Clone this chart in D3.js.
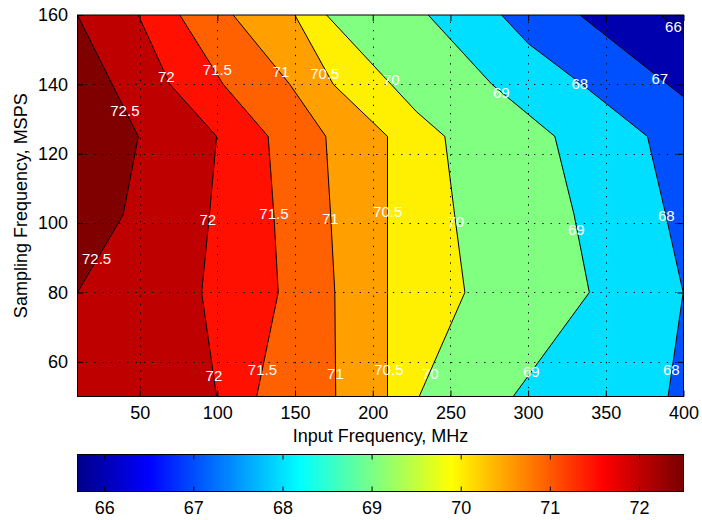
<!DOCTYPE html>
<html><head><meta charset="utf-8">
<script src="https://cdn.jsdelivr.net/npm/d3@7"></script>
<style>
body{margin:0;background:#fff}
svg{display:block}
text{font-family:"Liberation Sans",Arial,Helvetica,sans-serif}
</style>
</head><body>
<svg id="chart" width="702" height="520"></svg>
<script>
// ---- data ----
const xDomain = [10, 400];          // Input Frequency, MHz
const yDomain = [50, 160];          // Sampling Frequency, MSPS
const cLimits = [65.7, 72.5];       // colour limits (SNR, dB)
const levels = [66, 67, 68, 69, 70, 70.5, 71, 71.5, 72, 72.5];
// contour line vertices [input MHz, sampling MSPS], one list per level
const c66  = [[385,160],[400,154.5]];
const c67  = [[333.3,160],[389.8,140],[400,136.4]];
const c68  = [[282.9,160],[300,151.8],[334.7,140],[376.8,125],[388.6,102.4],[399.8,80],[390.1,50]];
const c69  = [[235.7,160],[276.7,140],[317.2,125],[329.6,102.4],[339.4,80],[290.4,50]];
const c70  = [[170.3,160],[211.8,140],[228.2,132.1],[246.4,125],[252.7,102.4],[259.3,80],[229.9,50]];
const c705 = [[149.9,160],[174.6,140],[209.5,125],[209.5,102.4],[209.5,80],[209.5,50]];
const c71  = [[110.2,160],[146.6,140],[169.8,125],[172.9,102.4],[175.6,80],[176.2,50]];
const c715 = [[75.9,160],[103.8,140],[132.7,125],[136.4,102.4],[139.2,80],[125.3,50]];
const c72  = [[49.1,160],[69.5,140],[99.5,125],[94.9,102.4],[89.9,80],[99.5,50]];
const c725 = [[10,160],[49.1,125],[39.4,102.4],[10,80]];
const contourLines = [c66, c67, c68, c69, c70, c705, c71, c715, c72, c725];
// contour labels
const labelValues = [72.5,72.5,72,72,72,71.5,71.5,71.5,71,71,71,70.5,70.5,70.5,70,70,70,69,69,69,68,68,68,67,66];
const labelX = [40.5,22.3,67.2,93.9,97.8,100.0,136.4,129.0,140.9,172.7,176.0,169.2,209.7,210.4,212.0,253.5,237.1,282.8,331.0,302.1,333.3,388.9,392.2,384.8,393.5];
const labelY = [132.3,89.9,142.3,100.9,56.1,144.4,102.6,57.8,143.8,101.4,56.5,143.1,103.3,57.9,141.3,100.4,56.6,137.6,98.0,57.2,140.2,102.3,57.8,141.7,156.7];
const xTicks = [50, 100, 150, 200, 250, 300, 350, 400];
const yTicks = [60, 80, 100, 120, 140, 160];
const cbTicks = [66, 67, 68, 69, 70, 71, 72];
const xTitle = "Input Frequency, MHz";
const yTitle = "Sampling Frequency, MSPS";

// ---- layout ----
const px0 = 77.5, px1 = 683.5, py0 = 15, py1 = 396.5;
const cbY0 = 454.5, cbY1 = 491.5;
const fontSize = 18;

const svg = d3.select("#chart");
svg.append("rect").attr("width",702).attr("height",520).attr("fill","#fff");

const x = d3.scaleLinear(xDomain, [px0, px1]);
const y = d3.scaleLinear(yDomain, [py1, py0]);
const cx = d3.scaleLinear(cLimits, [px0, px1]);

// MATLAB jet(64)
function u(k){ return k <= 16 ? k/16 : (k <= 31 ? 1 : (48 - k)/16); }
function jet64(i){
  const r = i < 25 ? 0 : u(i - 24);
  const g = (i < 9 || i > 55) ? 0 : u(i - 8);
  const b = i > 39 ? 0 : u(i + 8);
  return d3.rgb(Math.round(r*255), Math.round(g*255), Math.round(b*255)).formatHex();
}
function colorOf(v){
  let i = Math.floor((v - cLimits[0]) / (cLimits[1] - cLimits[0]) * 64 + 1e-9) + 1;
  return jet64(Math.max(1, Math.min(64, i)));
}

// ---- filled contours ----
const [X0, X1] = xDomain, [Y0, Y1] = yDomain;
const W = X1 - X0, H = Y1 - Y0, TOT = 2*W + 2*H;
const eps = 1e-6;
function perim(p){
  const [a, b] = p;
  if (Math.abs(b - Y1) < eps && a < X1 - eps) return a - X0;
  if (Math.abs(a - X1) < eps) return W + (Y1 - b);
  if (Math.abs(b - Y0) < eps) return W + H + (X1 - a);
  return 2*W + H + (b - Y0);
}
const corners = [[[X1,Y1], W], [[X1,Y0], W+H], [[X0,Y0], 2*W+H], [[X0,Y1], TOT]];
function highSide(pts){
  const te = perim(pts[pts.length-1]);
  let ts = perim(pts[0]);
  if (ts <= te) ts += TOT;
  const extra = [];
  const cand = [];
  corners.forEach(([c,t]) => { cand.push([c,t]); cand.push([c,t+TOT]); });
  cand.sort((p,q) => p[1]-q[1]).forEach(([c,t]) => { if (t > te + eps && t < ts - eps) extra.push(c); });
  return pts.concat(extra);
}
const defs = svg.append("defs");
defs.append("clipPath").attr("id","plotclip")
  .append("rect").attr("x",px0).attr("y",py0).attr("width",px1-px0).attr("height",py1-py0);

const line = d3.line().x(d => x(d[0])).y(d => y(d[1]));
const gFill = svg.append("g").attr("clip-path","url(#plotclip)");
gFill.append("rect").attr("x",px0).attr("y",py0).attr("width",px1-px0).attr("height",py1-py0)
  .attr("fill", colorOf(cLimits[0]));
levels.forEach((lv, k) => {
  gFill.append("path").attr("d", line(highSide(contourLines[k])) + "Z")
    .attr("fill", colorOf(lv)).attr("stroke","none");
});
levels.forEach((lv, k) => {
  gFill.append("path").attr("d", line(contourLines[k]))
    .attr("fill","none").attr("stroke","#000").attr("stroke-width",1);
});

// grid (dotted)
const gGrid = svg.append("g").attr("stroke","#000").attr("stroke-width",1).attr("stroke-dasharray","1.3,7");
xTicks.filter(t => t < X1).forEach(t => gGrid.append("line")
  .attr("x1", Math.round(x(t))+0.5).attr("x2", Math.round(x(t))+0.5).attr("y1", py1).attr("y2", py0));
yTicks.filter(t => t < Y1).forEach(t => gGrid.append("line")
  .attr("y1", Math.round(y(t))+0.5).attr("y2", Math.round(y(t))+0.5).attr("x1", px0).attr("x2", px1));

// contour labels
const gLab = svg.append("g").attr("fill","#fff").attr("font-size",15).attr("text-anchor","middle");
labelValues.forEach((v, i) => {
  gLab.append("text").attr("x", x(labelX[i])).attr("y", y(labelY[i])).attr("dy","0.36em").text(v);
});

// axes
function styleAxis(g){
  g.select(".domain").remove();
  g.selectAll(".tick line").attr("stroke","#000");
  g.selectAll("text").attr("fill","#000").attr("font-size",fontSize).attr("font-family",null);
}
svg.append("g").attr("transform",`translate(0,${py1})`)
  .call(d3.axisBottom(x).tickValues(xTicks).tickSize(-6).tickPadding(10).tickFormat(d3.format("d"))).call(styleAxis);
svg.append("g").attr("transform",`translate(0,${py0})`)
  .call(d3.axisTop(x).tickValues(xTicks).tickSize(-6).tickFormat("")).call(styleAxis);
svg.append("g").attr("transform",`translate(${px0},0)`)
  .call(d3.axisLeft(y).tickValues(yTicks).tickSize(-6).tickPadding(9.5).tickFormat(d3.format("d"))).call(styleAxis);
svg.append("g").attr("transform",`translate(${px1},0)`)
  .call(d3.axisRight(y).tickValues(yTicks).tickSize(-6).tickFormat("")).call(styleAxis);
svg.append("rect").attr("x",px0).attr("y",py0).attr("width",px1-px0).attr("height",py1-py0)
  .attr("fill","none").attr("stroke","#000").attr("stroke-width",1);

// titles
svg.append("text").attr("x",(px0+px1)/2).attr("y",442).attr("text-anchor","middle")
  .attr("font-size",fontSize).attr("fill","#000").text(xTitle);
svg.append("text").attr("transform",`translate(27,${(py0+py1)/2}) rotate(-90)`).attr("text-anchor","middle")
  .attr("font-size",fontSize).attr("fill","#000").text(yTitle);

// colorbar (smooth jet)
const grad = defs.append("linearGradient").attr("id","jetgrad")
  .attr("x1","0%").attr("x2","100%").attr("y1","0%").attr("y2","0%");
d3.range(64).forEach(i => {
  grad.append("stop").attr("offset", ((i + 0.5) / 64 * 100) + "%").attr("stop-color", jet64(i+1));
});
svg.append("rect").attr("x", cx(cLimits[0])).attr("y", cbY0)
  .attr("width", cx(cLimits[1]) - cx(cLimits[0])).attr("height", cbY1 - cbY0)
  .attr("fill","url(#jetgrad)");
svg.append("g").attr("transform",`translate(0,${cbY1})`)
  .call(d3.axisBottom(cx).tickValues(cbTicks).tickSize(-5).tickPadding(10).tickFormat(d3.format("d"))).call(styleAxis);
svg.append("g").attr("transform",`translate(0,${cbY0})`)
  .call(d3.axisTop(cx).tickValues(cbTicks).tickSize(-5).tickFormat("")).call(styleAxis);
svg.append("rect").attr("x",px0).attr("y",cbY0).attr("width",px1-px0).attr("height",cbY1-cbY0)
  .attr("fill","none").attr("stroke","#000").attr("stroke-width",1);
</script>
</body></html>
